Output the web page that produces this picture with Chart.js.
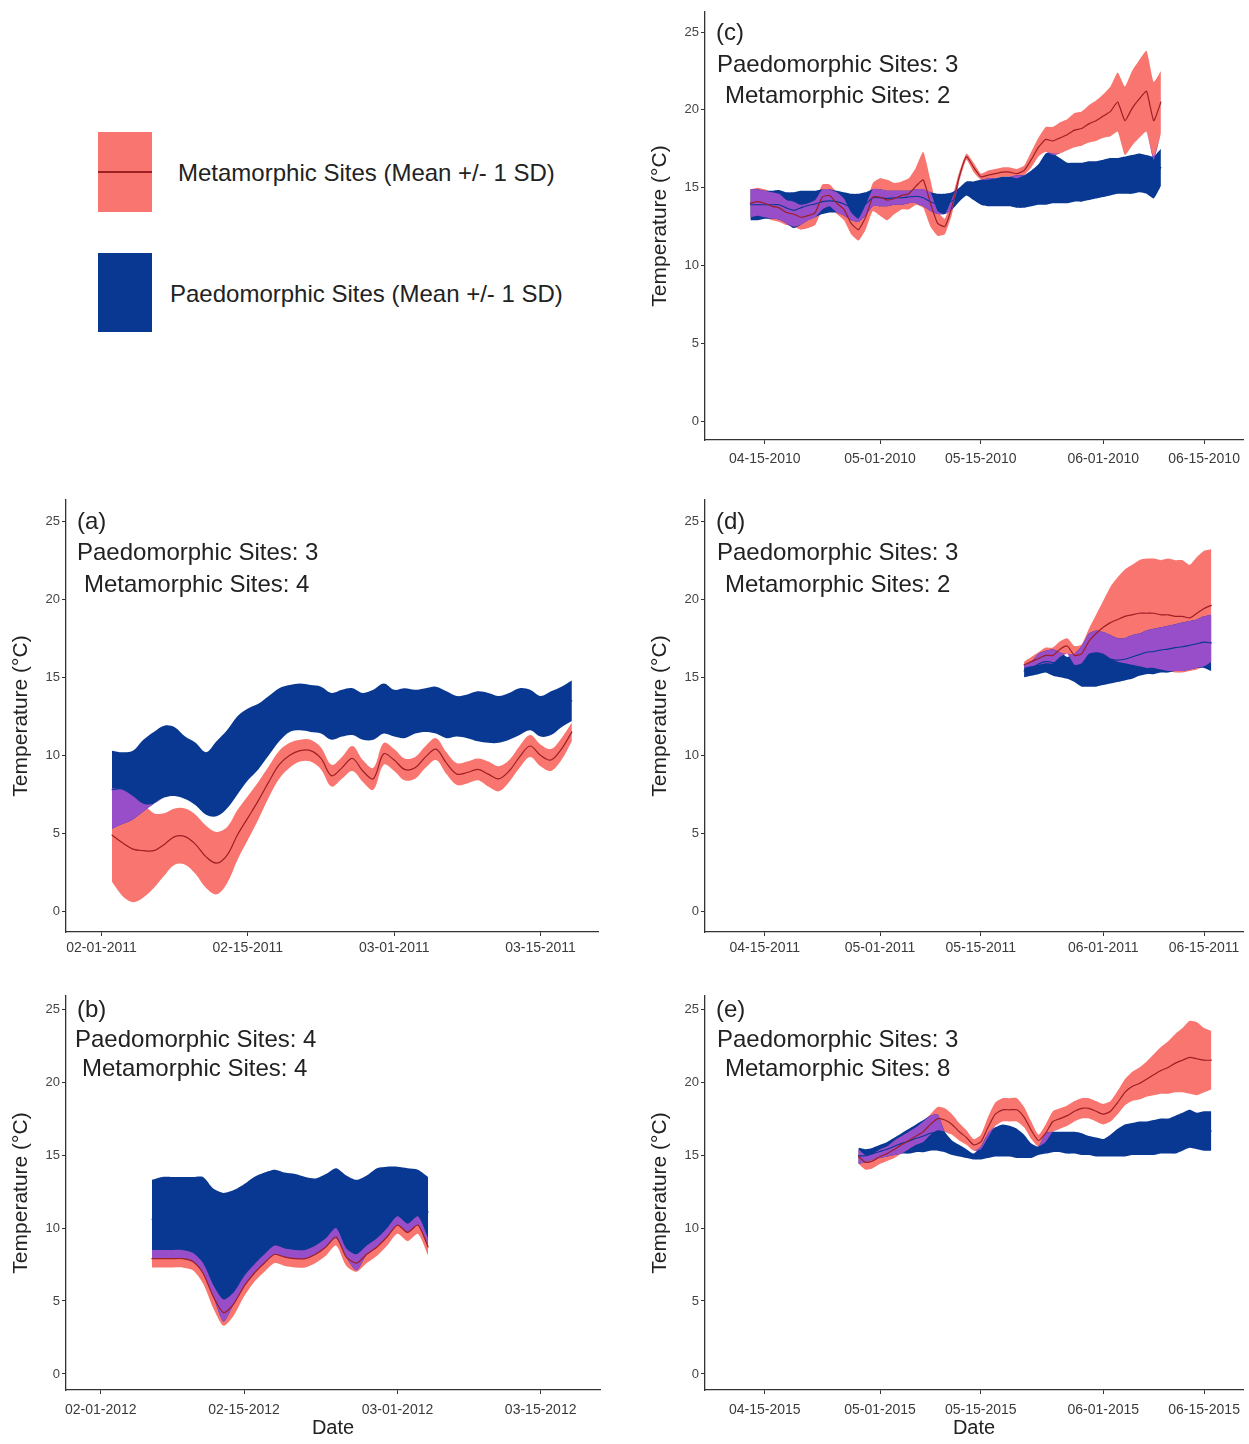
<!DOCTYPE html>
<html>
<head>
<meta charset="utf-8">
<script src="https://cdn.jsdelivr.net/npm/chart.js@4.4.0/dist/chart.umd.min.js"></script>
<style>
  body { margin: 0; background: #fff; }
  #page { position: relative; width: 1249px; height: 1444px; background: #fff;
          font-family: 'Liberation Sans', Arial, sans-serif; color: #222; }
  canvas { position: absolute; }
  .note { position: absolute; font-size: 24px; line-height: 24px; white-space: pre; }
  .key { position: absolute; width: 54px; }
</style>
</head>
<body>
<div id="page">
  <!-- legend -->
  <div class="key" style="left:98px; top:132px; height:80px; background:rgb(249,118,112);">
    <div style="position:absolute; left:0; top:39px; width:54px; height:1.5px; background:#9e1f24;"></div>
  </div>
  <div class="note" style="left:178px; top:161px;">Metamorphic Sites (Mean +/- 1 SD)</div>
  <div class="key" style="left:98px; top:253px; height:79px; background:rgb(8,56,146);"></div>
  <div class="note" style="left:170px; top:282px;">Paedomorphic Sites (Mean +/- 1 SD)</div>

  <canvas id="chartC" width="609" height="470" style="left:640px; top:0px;"></canvas>
  <canvas id="chartA" width="610" height="470" style="left:0px; top:490px;"></canvas>
  <canvas id="chartD" width="609" height="470" style="left:640px; top:490px;"></canvas>
  <canvas id="chartB" width="610" height="458" style="left:0px; top:986px;"></canvas>
  <canvas id="chartE" width="609" height="458" style="left:640px; top:986px;"></canvas>

  <!-- panel annotations -->
  <div class="note" style="left:716px; top:20px;">(c)</div>
  <div class="note" style="left:717px; top:52px;">Paedomorphic Sites: 3</div>
  <div class="note" style="left:725px; top:83px;">Metamorphic Sites: 2</div>

  <div class="note" style="left:77px; top:509px;">(a)</div>
  <div class="note" style="left:77px; top:540px;">Paedomorphic Sites: 3</div>
  <div class="note" style="left:84px; top:572px;">Metamorphic Sites: 4</div>

  <div class="note" style="left:716px; top:509px;">(d)</div>
  <div class="note" style="left:717px; top:540px;">Paedomorphic Sites: 3</div>
  <div class="note" style="left:725px; top:572px;">Metamorphic Sites: 2</div>

  <div class="note" style="left:77px; top:997px;">(b)</div>
  <div class="note" style="left:75px; top:1027px;">Paedomorphic Sites: 4</div>
  <div class="note" style="left:82px; top:1056px;">Metamorphic Sites: 4</div>

  <div class="note" style="left:716px; top:997px;">(e)</div>
  <div class="note" style="left:717px; top:1027px;">Paedomorphic Sites: 3</div>
  <div class="note" style="left:725px; top:1056px;">Metamorphic Sites: 8</div>
</div>

<script>
// ---- data (daily values) ----
const yTickValues = [0, 5, 10, 15, 20, 25];

// (a) 2011, Feb-Mar
const aStart = '02-02-2011';
const aTicks = ['02-01-2011', '02-15-2011', '03-01-2011', '03-15-2011'];
const aMetMean = [4.9, 4.4, 4.0, 3.9, 3.9, 4.3, 4.8, 4.8, 4.3, 3.5,
                  3.1, 3.6, 4.9, 6.0, 7.1, 8.3, 9.4, 10.0, 10.3, 10.3,
                  9.8, 8.7, 9.2, 9.8, 9.0, 8.5, 10.1, 9.7, 9.1, 9.2,
                  9.9, 10.4, 9.5, 8.8, 8.9, 9.1, 8.8, 8.5, 9.0, 9.9,
                  10.6, 10.0, 9.7, 10.4, 11.5];
const aMetSd = [3.0, 3.4, 3.4, 3.0, 2.4, 2.0, 1.8, 1.8, 1.9, 2.0,
                2.0, 1.8, 1.6, 1.4, 1.2, 1.0, 0.9, 0.8, 0.7, 0.7,
                0.7, 0.7, 0.7, 0.8, 0.7, 0.7, 0.7, 0.7, 0.7, 0.7,
                0.7, 0.7, 0.7, 0.7, 0.7, 0.7, 0.8, 0.8, 0.7, 0.7,
                0.7, 0.7, 0.7, 0.7, 0.6];
const aPaeMean = [7.8, 7.9, 8.1, 8.7, 9.2, 9.6, 9.6, 9.2, 8.8, 8.2,
                  8.5, 9.1, 10.0, 10.7, 11.2, 11.9, 12.6, 13.0, 13.1, 13.0,
                  12.9, 12.5, 12.7, 12.8, 12.5, 12.6, 13.0, 12.7, 12.7, 12.8,
                  12.9, 12.9, 12.6, 12.5, 12.5, 12.5, 12.4, 12.3, 12.5, 12.8,
                  12.9, 12.5, 12.7, 13.1, 13.5];
const aPaeSd = [2.5, 2.3, 2.2, 2.3, 2.3, 2.3, 2.2, 2.0, 2.0, 2.0,
                2.4, 2.5, 2.5, 2.3, 2.1, 1.9, 1.7, 1.5, 1.5, 1.5,
                1.5, 1.5, 1.5, 1.5, 1.5, 1.6, 1.6, 1.5, 1.6, 1.4,
                1.4, 1.5, 1.5, 1.3, 1.4, 1.6, 1.6, 1.5, 1.5, 1.5,
                1.3, 1.3, 1.4, 1.3, 1.3];

// (b) 2012, Feb-Mar
const bStart = '02-06-2012';
const bTicks = ['02-01-2012', '02-15-2012', '03-01-2012', '03-15-2012'];
const bMetMean = [7.9, 7.9, 7.9, 7.9, 7.7, 6.9, 5.3, 4.2, 4.8, 6.0,
                  6.9, 7.6, 8.2, 8.0, 7.9, 7.9, 8.2, 8.7, 9.4, 8.0,
                  7.6, 8.2, 8.7, 9.4, 10.2, 9.7, 10.2, 8.7];
const bMetSd = [0.6, 0.6, 0.6, 0.6, 0.6, 0.7, 0.8, 0.9, 0.8, 0.7,
                0.6, 0.6, 0.6, 0.6, 0.6, 0.6, 0.6, 0.6, 0.6, 0.6,
                0.6, 0.6, 0.6, 0.6, 0.6, 0.6, 0.6, 0.6];
const bPaeMean = [10.6, 10.7, 10.7, 10.7, 10.6, 10.2, 9.0, 8.0, 8.7, 9.5,
                  10.2, 10.7, 11.1, 10.9, 10.8, 10.7, 10.8, 11.2, 11.7, 10.8,
                  10.2, 10.9, 11.4, 11.8, 12.2, 11.9, 12.1, 11.1];
const bPaeSd = [2.7, 2.8, 2.8, 2.8, 2.9, 3.3, 3.7, 4.4, 3.9, 3.5,
                3.3, 3.1, 2.9, 2.9, 2.9, 2.8, 2.6, 2.5, 2.4, 2.8,
                3.1, 2.7, 2.7, 2.4, 2.0, 2.2, 1.9, 2.4];

// (c) 2010, Apr-Jun
const cStart = '04-13-2010';
const cTicks = ['04-15-2010', '05-01-2010', '05-15-2010', '06-01-2010', '06-15-2010'];
const cMetMean = [14.0, 14.1, 14.0, 13.8, 13.7, 13.4, 13.3, 13.1, 13.2, 13.4,
                  14.4, 14.5, 14.0, 13.6, 12.7, 12.3, 13.1, 14.4, 14.4, 14.2,
                  14.3, 14.5, 14.6, 15.1, 15.5, 14.0, 12.7, 12.5, 13.8, 15.7,
                  17.0, 16.3, 15.7, 15.8, 15.9, 16.0, 16.0, 15.9, 16.1, 16.8,
                  17.6, 18.1, 18.0, 18.2, 18.4, 18.7, 18.8, 19.1, 19.3, 19.6,
                  19.9, 20.5, 19.3, 20.1, 20.7, 21.2, 19.3, 20.5];
const cMetSd = [0.9, 0.9, 0.9, 0.9, 0.9, 0.8, 0.8, 0.8, 0.8, 0.8,
                0.8, 0.7, 0.7, 0.7, 0.7, 0.7, 0.8, 0.9, 1.2, 1.3,
                1.0, 0.9, 1.0, 1.2, 1.8, 1.5, 0.8, 0.5, 0.5, 0.3,
                0.2, 0.3, 0.2, 0.3, 0.3, 0.3, 0.3, 0.3, 0.3, 0.5,
                0.6, 0.8, 0.9, 1.0, 1.0, 1.1, 1.1, 1.2, 1.3, 1.4,
                1.6, 1.9, 2.2, 2.4, 2.5, 2.6, 2.5, 2.0];
const cPaeMean = [13.9, 13.9, 13.9, 13.9, 13.9, 13.7, 13.55, 13.7, 13.85, 13.95,
                  14.1, 14.15, 14.1, 13.95, 13.75, 13.7, 13.95, 14.35, 14.35, 14.3,
                  14.35, 14.35, 14.4, 14.45, 14.35, 14.1, 13.95, 13.95, 14.15, 14.55,
                  14.95, 14.8, 14.7, 14.7, 14.7, 14.75, 14.75, 14.75, 14.75, 14.95,
                  15.2, 15.55, 15.6, 15.45, 15.3, 15.35, 15.35, 15.45, 15.5, 15.6,
                  15.7, 15.75, 15.8, 15.85, 15.95, 15.85, 15.65, 16.3];
const cPaeSd = [1.0, 1.0, 0.9, 0.9, 0.95, 1.0, 1.15, 1.1, 0.95, 0.85,
                0.8, 0.75, 0.7, 0.75, 0.85, 0.9, 0.75, 0.55, 0.55, 0.5,
                0.45, 0.45, 0.4, 0.45, 0.55, 0.6, 0.65, 0.65, 0.55, 0.45,
                0.45, 0.6, 0.8, 0.9, 0.9, 0.95, 0.95, 1.05, 1.05, 1.15,
                1.3, 1.65, 1.6, 1.45, 1.3, 1.25, 1.25, 1.25, 1.2, 1.2,
                1.2, 1.15, 1.2, 1.25, 1.25, 1.25, 1.35, 1.2];

// (d) 2011, May-Jun
const dStart = '05-21-2011';
const dTicks = ['04-15-2011', '05-01-2011', '05-15-2011', '06-01-2011', '06-15-2011'];
const dMetMean = [15.8, 16.0, 16.2, 16.4, 16.4, 16.8, 17.0, 16.4, 16.5, 17.3,
                  17.8, 18.2, 18.5, 18.7, 18.9, 19.0, 19.1, 19.1, 19.1, 19.0,
                  19.0, 18.9, 18.9, 18.8, 19.1, 19.4, 19.6];
const dMetSd = [0.2, 0.3, 0.4, 0.5, 0.5, 0.5, 0.5, 0.6, 0.6, 0.8,
                1.2, 1.7, 2.3, 2.7, 3.0, 3.2, 3.4, 3.5, 3.5, 3.5,
                3.6, 3.6, 3.6, 3.4, 3.6, 3.7, 3.6];
const dPaeMean = [15.4, 15.55, 15.85, 16.0, 15.95, 15.8, 15.6, 15.6, 15.7, 16.1,
                  16.2, 16.2, 16.15, 16.1, 16.15, 16.3, 16.45, 16.6, 16.65, 16.75,
                  16.8, 16.9, 16.95, 17.05, 17.15, 17.25, 17.2];
const dPaeSd = [0.4, 0.45, 0.65, 0.7, 0.85, 0.8, 0.7, 0.9, 1.3, 1.7,
                1.8, 1.7, 1.55, 1.4, 1.35, 1.4, 1.35, 1.4, 1.45, 1.45,
                1.5, 1.5, 1.55, 1.55, 1.55, 1.65, 1.8];

// (e) 2015, Apr-Jun
const eStart = '04-28-2015';
const eTicks = ['04-15-2015', '05-01-2015', '05-15-2015', '06-01-2015', '06-15-2015'];
const eMetMean = [14.9, 14.5, 14.6, 14.9, 15.1, 15.4, 15.7, 16.0, 16.3, 16.6,
                  17.1, 17.5, 17.4, 17.1, 16.6, 16.2, 15.7, 15.9, 16.9, 17.8,
                  18.1, 18.1, 18.1, 17.6, 16.7, 16.0, 16.5, 17.3, 17.5, 17.7,
                  18.0, 18.2, 18.2, 18.0, 17.8, 18.0, 18.6, 19.3, 19.7, 19.9,
                  20.2, 20.5, 20.8, 21.0, 21.3, 21.5, 21.7, 21.6, 21.5, 21.5];
const eMetSd = [0.5, 0.5, 0.5, 0.5, 0.5, 0.6, 0.6, 0.6, 0.6, 0.7,
                0.7, 0.8, 0.8, 0.7, 0.6, 0.5, 0.4, 0.5, 0.7, 0.8,
                0.8, 0.8, 0.8, 0.7, 0.6, 0.4, 0.6, 0.7, 0.7, 0.7,
                0.7, 0.7, 0.7, 0.7, 0.7, 0.7, 0.8, 0.9, 1.0, 1.1,
                1.2, 1.4, 1.6, 1.8, 2.0, 2.2, 2.5, 2.5, 2.2, 2.0];
const ePaeMean = [14.95, 14.95, 15.1, 15.25, 15.4, 15.6, 15.8, 15.95, 16.15, 16.3,
                  16.5, 16.55, 15.9, 15.5, 15.3, 15.1, 14.9, 15.15, 15.65, 15.9,
                  16.0, 15.95, 15.8, 15.6, 15.3, 15.3, 15.8, 15.9, 15.9, 15.85,
                  15.85, 15.75, 15.65, 15.55, 15.5, 15.65, 15.85, 16.0, 16.1, 16.15,
                  16.15, 16.2, 16.3, 16.3, 16.4, 16.6, 16.8, 16.65, 16.65, 16.65];
const ePaeSd = [0.55, 0.45, 0.4, 0.45, 0.5, 0.6, 0.7, 0.85, 0.95, 1.1,
                1.2, 1.25, 0.7, 0.5, 0.4, 0.3, 0.2, 0.45, 0.85, 1.0,
                1.1, 1.05, 1.0, 0.8, 0.5, 0.3, 0.7, 0.7, 0.7, 0.75,
                0.75, 0.75, 0.65, 0.65, 0.6, 0.75, 0.95, 1.1, 1.1, 1.15,
                1.15, 1.2, 1.2, 1.2, 1.3, 1.3, 1.3, 1.25, 1.35, 1.35];

// ---- styling ----
const PINK = 'rgb(249,118,112)';
const BLUE = 'rgb(8,56,146)';
const PURPLE = 'rgb(152,78,200)';
const MET_LINE = '#9e1f24';
const PAE_LINE = BLUE;   // same as the ribbon: only shows where it crosses purple
const NONE = 'rgba(0,0,0,0)';

Chart.defaults.font.family = "'Liberation Sans', Arial, sans-serif";
Chart.defaults.color = '#333';

// 'MM-DD-YYYY' -> day number
function dayNum(s) {
    const [m, d, y] = s.split('-').map(Number);
    return Date.UTC(y, m - 1, d) / 86400000;
}

function band(lo, hi, color, order) {
    return [
        { data: lo, borderColor: NONE, borderWidth: 0, fill: false, order: order },
        { data: hi, borderColor: NONE, borderWidth: 0, backgroundColor: color, fill: '-1', order: order }
    ];
}

function buildPanel(cfg) {
    const x0 = dayNum(cfg.start);
    const pts = arr => arr.map((v, i) => ({ x: x0 + i, y: v }));

    const metLo = cfg.metMean.map((m, i) => m - cfg.metSd[i]);
    const metHi = cfg.metMean.map((m, i) => m + cfg.metSd[i]);
    const paeLo = cfg.paeMean.map((m, i) => m - cfg.paeSd[i]);
    const paeHi = cfg.paeMean.map((m, i) => m + cfg.paeSd[i]);
    // where the two ribbons overlap
    const ovLo = metLo.map((v, i) => Math.max(v, paeLo[i]));
    const ovHi = metHi.map((v, i) => Math.max(Math.min(v, paeHi[i]), ovLo[i]));

    const tickDays = cfg.ticks.map(dayNum);

    const datasets = [
        ...band(pts(metLo), pts(metHi), PINK, 10),
        ...band(pts(paeLo), pts(paeHi), BLUE, 9),
        ...band(pts(ovLo), pts(ovHi), PURPLE, 8),
        { data: pts(cfg.paeMean), borderColor: PAE_LINE, borderWidth: 1.1, fill: false, order: 2 },
        { data: pts(cfg.metMean), borderColor: MET_LINE, borderWidth: 1.2, fill: false, order: 1 }
    ];

    new Chart(document.getElementById(cfg.id), {
        type: 'line',
        data: { datasets: datasets },
        options: {
            responsive: false,
            animation: false,
            devicePixelRatio: 1,
            layout: { padding: { left: cfg.padLeft, top: cfg.padTop, right: cfg.padRight, bottom: 0 } },
            elements: {
                point: { radius: 0, hoverRadius: 0 },
                line: { tension: cfg.tension, borderCapStyle: 'round', borderJoinStyle: 'round' }
            },
            plugins: { legend: { display: false }, tooltip: { enabled: false } },
            scales: {
                x: {
                    type: 'linear',
                    min: tickDays[0] - cfg.daysBefore,
                    max: tickDays[tickDays.length - 1] + cfg.daysAfter,
                    afterBuildTicks: s => { s.ticks = tickDays.map(v => ({ value: v })); },
                    afterFit: s => { s.height = cfg.axisH; },
                    ticks: {
                        autoSkip: false, maxRotation: 0, padding: cfg.tickPad,
                        font: { size: 14 }, color: '#3a3a3a',
                        callback: (v, i) => cfg.ticks[i]
                    },
                    grid: { drawOnChartArea: false, drawTicks: true, tickLength: 4, color: '#333' },
                    border: { color: '#333', width: 1.3 },
                    title: {
                        display: cfg.dateTitle, text: 'Date', color: '#222',
                        font: { size: 20 }, padding: { top: 2, bottom: 4 }
                    }
                },
                y: {
                    min: cfg.yMin,
                    max: cfg.yMax,
                    afterBuildTicks: s => { s.ticks = yTickValues.map(v => ({ value: v })); },
                    afterFit: s => { s.width = 60; },
                    ticks: { autoSkip: false, padding: 2, font: { size: 13 }, color: '#444' },
                    grid: { drawOnChartArea: false, drawTicks: true, tickLength: 4, color: '#333' },
                    border: { color: '#333', width: 1.3 },
                    title: {
                        display: true, text: 'Temperature (°C)', color: '#222',
                        font: { size: 21 }, padding: { top: 3, bottom: 3 }
                    }
                }
            }
        }
    });
}

const leftTop = { padLeft: 6, padTop: 10, padRight: 12, axisH: 28, tickPad: 4, yMin: -1.31, yMax: 26.35 };
const leftBot = { padLeft: 6, padTop: 10, padRight: 10, axisH: 54, tickPad: 8, yMin: -1.1, yMax: 25.9 };

buildPanel(Object.assign({}, leftTop, {
    id: 'chartA', start: aStart, ticks: aTicks,
    metMean: aMetMean, metSd: aMetSd, paeMean: aPaeMean, paeSd: aPaeSd,
    daysBefore: 3.4, daysAfter: 5.5, dateTitle: false, tension: 0.35
}));
buildPanel(Object.assign({}, leftBot, {
    id: 'chartB', start: bStart, ticks: bTicks,
    metMean: bMetMean, metSd: bMetSd, paeMean: bPaeMean, paeSd: bPaeSd,
    daysBefore: 3.4, daysAfter: 5.8, dateTitle: true, tension: 0.25
}));
buildPanel({
    id: 'chartC', start: cStart, ticks: cTicks,
    metMean: cMetMean, metSd: cMetSd, paeMean: cPaeMean, paeSd: cPaeSd,
    padLeft: 5, padTop: 12, padRight: 6, axisH: 30, tickPad: 7, yMin: -1.22, yMax: 26.29,
    daysBefore: 8.3, daysAfter: 5.4, dateTitle: false, tension: 0.15
});
buildPanel({
    id: 'chartD', start: dStart, ticks: dTicks,
    metMean: dMetMean, metSd: dMetSd, paeMean: dPaeMean, paeSd: dPaeSd,
    padLeft: 5, padTop: 10, padRight: 6, axisH: 28, tickPad: 4, yMin: -1.31, yMax: 26.35,
    daysBefore: 8.3, daysAfter: 5.4, dateTitle: false, tension: 0.2
});
buildPanel({
    id: 'chartE', start: eStart, ticks: eTicks,
    metMean: eMetMean, metSd: eMetSd, paeMean: ePaeMean, paeSd: ePaeSd,
    padLeft: 5, padTop: 10, padRight: 6, axisH: 54, tickPad: 8, yMin: -1.1, yMax: 25.9,
    daysBefore: 8.3, daysAfter: 5.4, dateTitle: true, tension: 0.2
});
</script>
</body>
</html>
